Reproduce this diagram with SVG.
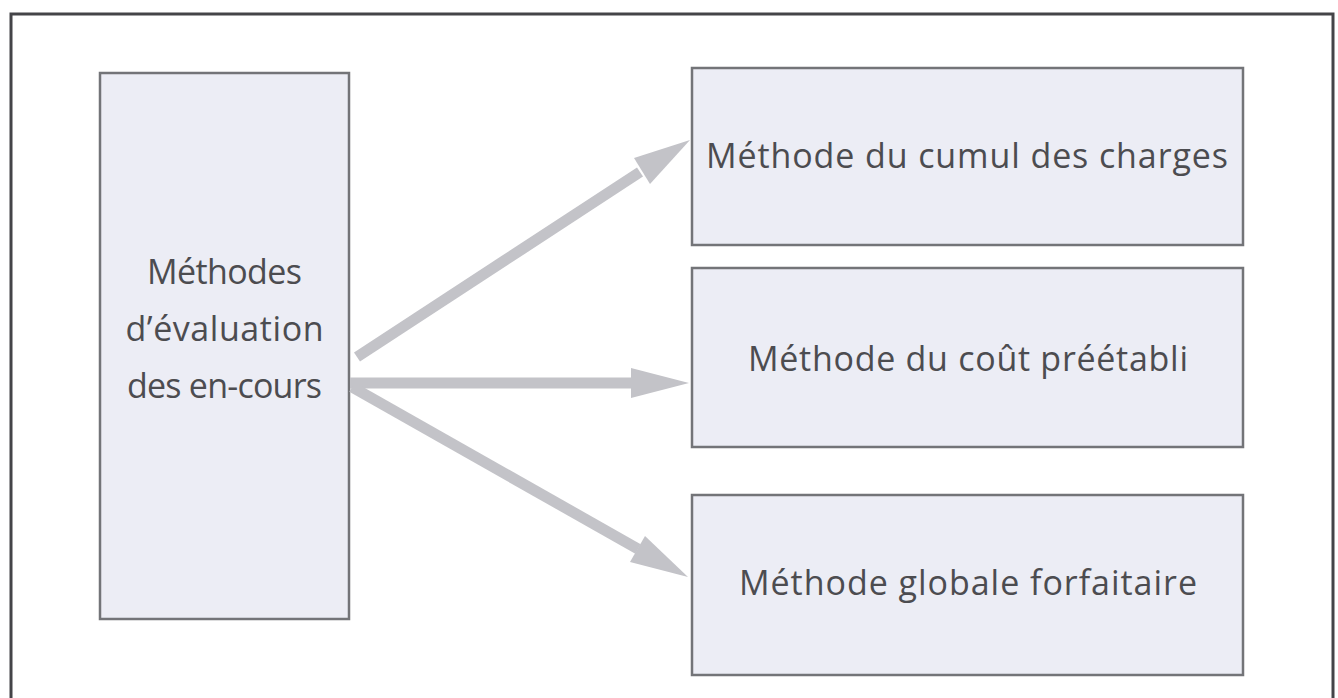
<svg xmlns="http://www.w3.org/2000/svg" width="1338" height="698" viewBox="0 0 1338 698">
  <defs>
    <style>
      .box { fill: #ecedf5; stroke: #737478; stroke-width: 2.5; }
      .label { font-family: "Open Sans", "Liberation Sans", sans-serif; font-size: 34px; fill: #4c4c50; text-anchor: middle; }
      .link { stroke: #c3c3c8; stroke-width: 11; fill: none; }
      .head { fill: #c3c3c8; }
    </style>
  </defs>
  <rect width="1338" height="698" fill="#ffffff"/>
  <!-- outer frame -->
  <rect x="11" y="14" width="1322" height="700" fill="none" stroke="#444448" stroke-width="3"/>

  <g id="node-source">
    <rect class="box" x="100" y="73" width="249" height="546"/>
    <text class="label" x="224.5" y="284" textLength="155" lengthAdjust="spacing">Méthodes</text>
    <text class="label" x="224.5" y="341" textLength="198" lengthAdjust="spacing">d’évaluation</text>
    <text class="label" x="224.5" y="398" textLength="195" lengthAdjust="spacing">des en-cours</text>
  </g>

  <g id="node-cumul">
    <rect class="box" x="692" y="68" width="551" height="177"/>
    <text class="label" x="967" y="168" textLength="522" lengthAdjust="spacing">Méthode du cumul des charges</text>
  </g>

  <g id="node-preetabli">
    <rect class="box" x="692" y="268" width="551" height="179"/>
    <text class="label" x="968" y="371" textLength="440" lengthAdjust="spacing">Méthode du coût préétabli</text>
  </g>

  <g id="node-forfaitaire">
    <rect class="box" x="692" y="495" width="551" height="180"/>
    <text class="label" x="968" y="595" textLength="458" lengthAdjust="spacing">Méthode globale forfaitaire</text>
  </g>

  <g id="connectors">
    <line class="link" x1="357" y1="357" x2="640" y2="172"/>
    <polygon class="head" points="690,140 634,158 650,184"/>
    <line class="link" x1="350" y1="383" x2="634" y2="383"/>
    <polygon class="head" points="689,383 631,368 631,398"/>
    <line class="link" x1="352" y1="387" x2="638" y2="549"/>
    <polygon class="head" points="688,577 645,536 630,562"/>
  </g>
</svg>
